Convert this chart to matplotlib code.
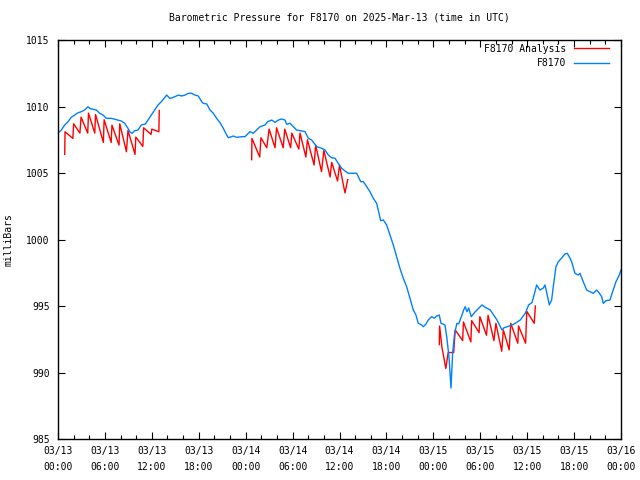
import matplotlib
matplotlib.use("Agg")
import matplotlib.pyplot as plt
import numpy as np

# Hours since 2025-03-13 00:00 UTC
obs_hours = [0.0, 0.42, 0.86, 1.28, 1.70, 2.14, 2.56, 2.98, 3.41, 3.84, 4.05, 4.48, 4.90, 5.33, 5.75,
             6.18, 6.82, 7.25, 7.67, 8.10, 8.53, 8.95, 9.17, 9.46, 9.81, 10.23, 10.65, 11.16, 11.51,
             11.93, 12.37, 12.79, 13.21, 13.90, 14.32, 14.96, 15.38, 15.82, 16.24, 16.66, 17.10,
             17.52, 17.94, 18.38, 18.58, 19.02, 19.44, 19.86, 20.29, 20.72, 21.14, 21.57, 21.78,
             22.42, 22.85, 23.49, 23.91, 24.55, 24.97, 25.41, 25.83, 26.47, 26.82, 27.33, 27.75,
             28.17, 28.61, 29.03, 29.25, 29.67, 30.09, 30.52, 31.16, 31.59, 32.01, 32.44, 33.08,
             33.72, 34.14, 34.57, 35.00, 35.42, 35.84, 36.28, 36.70, 37.12, 37.56, 38.20, 38.71,
             39.04, 39.48, 39.90, 40.32, 40.75, 41.05, 41.27, 41.60, 42.03, 42.46, 42.88, 43.31,
             43.73, 44.16, 44.59, 45.01, 45.44, 45.78, 46.07, 46.51, 46.71, 47.06, 47.35, 47.79,
             48.12, 48.43, 48.76, 48.98, 49.49, 49.71, 50.00, 50.17, 50.26, 50.47, 50.73, 51.02,
             51.24, 51.66, 51.88, 52.08, 52.30, 52.52, 52.85, 53.36, 54.22, 54.64, 55.28, 55.72,
             56.14, 56.78, 57.00, 57.42, 58.06, 58.48, 59.12, 59.76, 60.19, 60.61, 60.83, 61.21,
             61.64, 62.06, 62.28, 62.49, 62.83, 63.13, 63.34, 63.68, 63.98, 64.41, 64.83, 65.13,
             65.38, 65.69, 66.11, 66.53, 66.75, 67.17, 67.61, 68.03, 68.45, 68.89, 69.09, 69.53,
             69.73, 70.08, 70.59, 70.93, 71.36, 71.78, 72.0]
obs_pressure = [1008.0, 1008.23, 1008.61, 1008.86, 1009.19, 1009.36, 1009.53, 1009.61, 1009.74, 1009.98,
                1009.86, 1009.79, 1009.74, 1009.49, 1009.36, 1009.11, 1009.11, 1009.04, 1008.98, 1008.91,
                1008.74, 1008.36, 1008.11, 1007.98, 1008.18, 1008.23, 1008.61, 1008.68, 1008.98, 1009.36,
                1009.74, 1010.11, 1010.36, 1010.86, 1010.6, 1010.74, 1010.86, 1010.79, 1010.86, 1010.99,
                1010.99, 1010.86, 1010.79, 1010.36, 1010.24, 1010.19, 1009.74, 1009.49, 1009.11, 1008.78,
                1008.36, 1007.86, 1007.65, 1007.78, 1007.68, 1007.73, 1007.73, 1008.11, 1007.98, 1008.23,
                1008.48, 1008.61, 1008.86, 1008.98, 1008.81, 1008.98, 1009.06, 1008.98, 1008.66, 1008.74,
                1008.48, 1008.23, 1008.16, 1008.11, 1007.61, 1007.48, 1006.98, 1006.86, 1006.73, 1006.35,
                1006.15, 1006.11, 1005.73, 1005.35, 1005.15, 1004.98, 1004.98, 1004.98, 1004.35, 1004.35,
                1003.97, 1003.59, 1003.10, 1002.72, 1001.97, 1001.41, 1001.47, 1001.09, 1000.34, 999.59,
                998.71, 997.83, 997.08, 996.45, 995.58, 994.70, 994.32, 993.70, 993.57, 993.44, 993.65,
                993.95, 994.20, 994.08, 994.25, 994.32, 993.70, 993.57, 992.69, 991.19, 989.59, 988.83,
                991.47, 992.97, 993.70, 993.65, 994.32, 994.70, 994.95, 994.57, 994.85, 994.20, 994.57,
                995.08, 994.90, 994.70, 994.32, 993.95, 993.20, 993.35, 993.44, 993.57, 993.70, 993.95,
                994.45, 995.08, 995.25, 995.70, 996.58, 996.20, 996.35, 996.58, 996.05, 995.08, 995.45,
                996.45, 997.95, 998.33, 998.61, 998.91, 998.96, 998.71, 998.33, 997.46, 997.33, 997.46,
                996.83, 996.20, 996.08, 995.95, 996.20, 996.08, 995.70, 995.20, 995.40, 995.45, 996.08,
                996.83, 997.33, 997.71]

# Analysis series, three separate runs
ana1_hours = [0.86, 0.9, 1.3, 1.9, 2.0, 2.8, 2.95, 3.8, 3.9, 4.7, 4.8, 5.8, 5.9, 6.8, 6.9, 7.8, 7.9,
              8.75, 8.95, 9.85, 9.95, 10.85, 10.95, 11.9, 12.0, 12.9, 12.95]
ana1_pressure = [1006.4, 1008.1, 1007.9, 1007.6, 1008.7, 1008.0, 1009.2, 1008.0, 1009.5, 1008.0, 1009.4,
                 1007.3, 1009.0, 1007.3, 1008.6, 1007.1, 1008.7, 1006.6, 1008.2, 1006.4, 1007.7, 1007.0,
                 1008.4, 1007.9, 1008.3, 1008.1, 1009.7]
ana2_hours = [24.77, 24.8, 25.8, 25.95, 26.7, 27.0, 27.75, 27.95, 28.8, 29.0, 29.75, 29.9, 30.8, 30.95,
              31.7, 31.9, 32.75, 32.95, 33.7, 34.0, 34.8, 35.0, 35.75, 36.0, 36.7, 37.05]
ana2_pressure = [1006.0, 1007.6, 1006.2, 1007.65, 1006.9, 1008.3, 1006.9, 1008.4, 1006.9, 1008.3, 1006.9,
                 1008.0, 1006.8, 1008.0, 1006.2, 1007.5, 1005.6, 1007.1, 1005.1, 1006.7, 1004.7, 1005.8,
                 1004.4, 1005.6, 1003.5, 1004.5]
ana3_hours = [48.76, 48.8, 49.1, 49.6, 49.9, 50.6, 50.8, 51.75, 51.85, 52.8, 52.9, 53.85, 53.95, 54.8,
              55.0, 55.75, 56.0, 56.75, 56.95, 57.7, 57.9, 58.8, 58.9, 59.8, 59.95, 60.9, 61.05]
ana3_pressure = [992.1, 993.5, 991.9, 990.3, 991.5, 991.5, 993.2, 992.4, 993.8, 992.3, 993.9, 993.0, 994.2,
                 992.8, 994.3, 992.4, 993.7, 991.6, 993.2, 991.7, 993.7, 992.2, 993.5, 992.2, 994.6,
                 993.7, 995.0]

tick_hours = list(range(0, 73, 6))
tick_labels = ["03/13\n00:00", "03/13\n06:00", "03/13\n12:00", "03/13\n18:00",
               "03/14\n00:00", "03/14\n06:00", "03/14\n12:00", "03/14\n18:00",
               "03/15\n00:00", "03/15\n06:00", "03/15\n12:00", "03/15\n18:00",
               "03/16\n00:00"]
y_ticks = [985, 990, 995, 1000, 1005, 1010, 1015]

plt.rcParams['font.family'] = ['DejaVu Sans Mono']
fs = 7

fig = plt.figure(figsize=(6.4, 4.8), dpi=100)
ax = fig.add_axes([58/640, 1 - 439/480, (621 - 58)/640, (439 - 40)/480])

ana_h = ana1_hours + [np.nan] + ana2_hours + [np.nan] + ana3_hours
ana_p = ana1_pressure + [np.nan] + ana2_pressure + [np.nan] + ana3_pressure

ax.plot(ana_h, ana_p, color='#ff0000', lw=1.0, label='F8170 Analysis')
ax.plot(obs_hours, obs_pressure, color='#0080ff', lw=1.0, label='F8170')

ax.set_xlim(0, 72)
ax.set_ylim(985, 1015)
ax.set_xticks(tick_hours)
ax.set_xticklabels(tick_labels, fontsize=fs, linespacing=1.7)
ax.set_xticks(list(range(0, 73, 2)), minor=True)
ax.set_yticks(y_ticks)
ax.set_yticklabels([str(v) for v in y_ticks], fontsize=fs)
ax.tick_params(axis='both', which='major', direction='in', length=5, width=0.8,
               top=True, right=True, pad=6)
ax.tick_params(axis='both', which='minor', direction='in', length=3, width=0.8,
               top=True, right=True)
ax.tick_params(axis='x', which='major', pad=5)
for s in ax.spines.values():
    s.set_linewidth(1.0)

ax.set_title('Barometric Pressure for F8170 on 2025-Mar-13 (time in UTC)', fontsize=fs, pad=14)
ax.set_ylabel('milliBars', fontsize=fs, labelpad=9)

leg = ax.legend(loc='upper right', frameon=False, fontsize=fs, markerfirst=False,
                handlelength=3.6, handletextpad=0.8, labelspacing=0.45,
                borderaxespad=0.0, bbox_to_anchor=(0.985, 1.0))
for t in leg.get_texts():
    t.set_ha('right')

fig.savefig('out.png', dpi=100)
